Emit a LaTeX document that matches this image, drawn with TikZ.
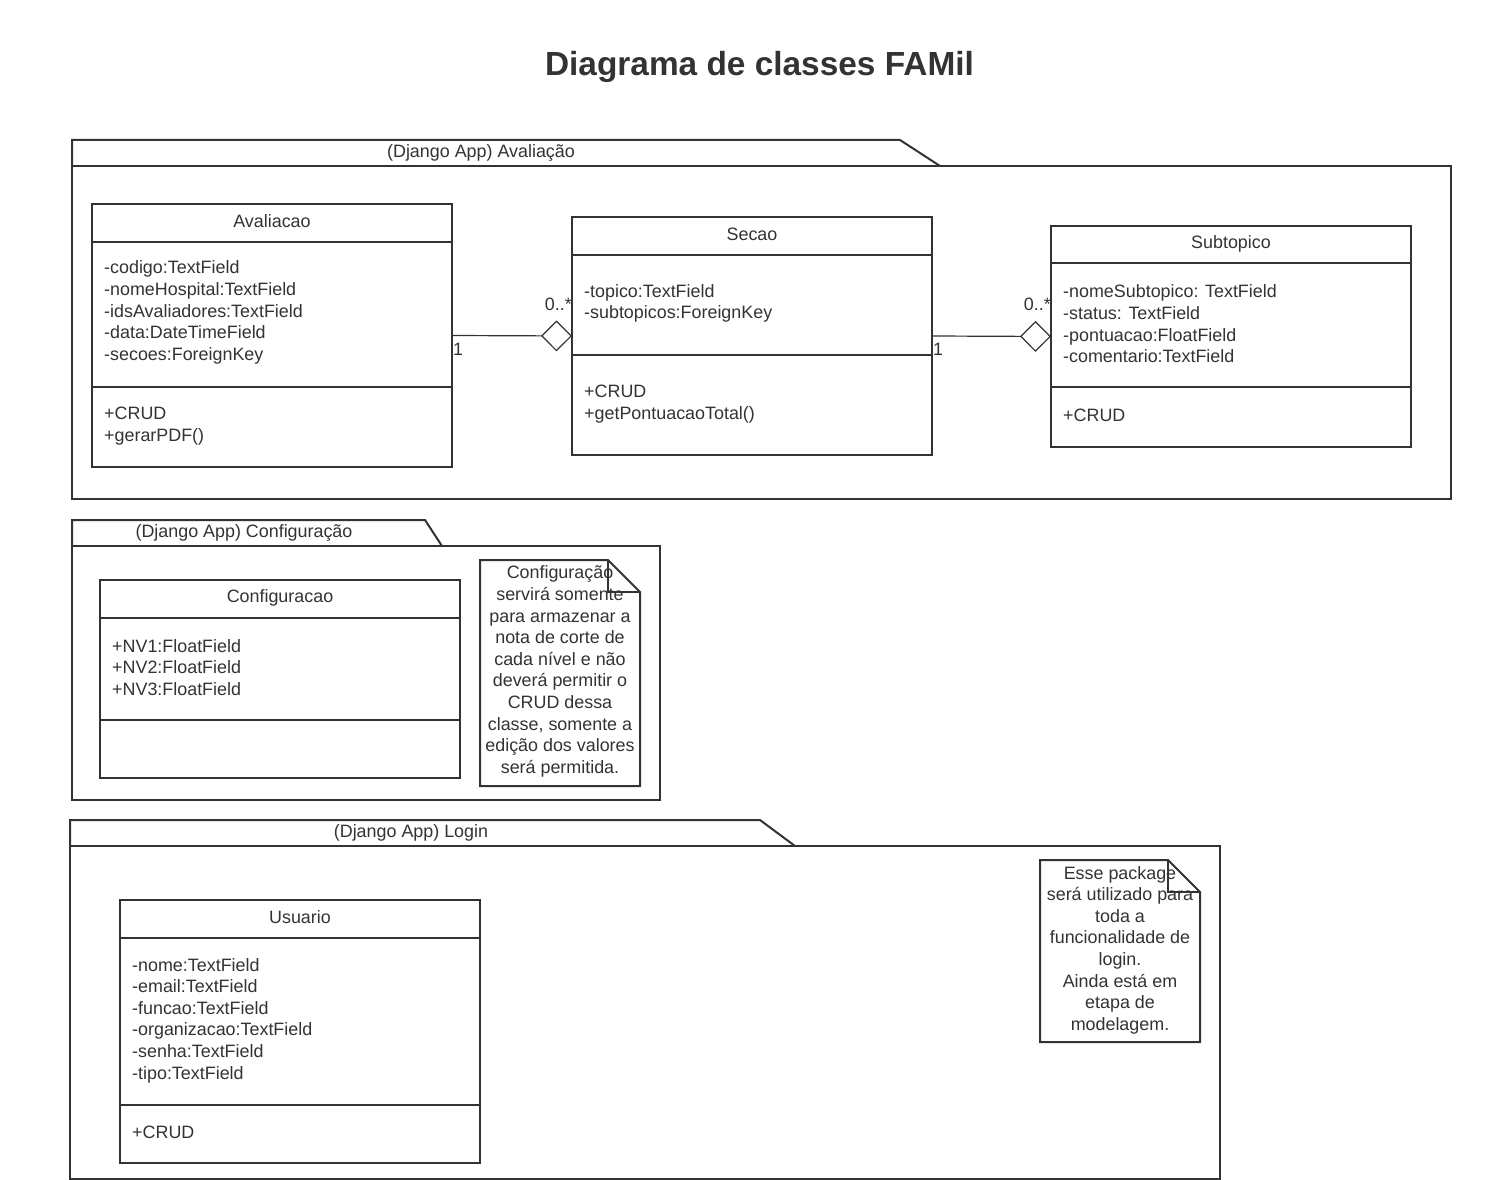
\documentclass[tikz,border=0pt]{standalone}
\usepackage{fontspec}
\setmainfont{Liberation Sans}
\usetikzlibrary{arrows.meta}
\definecolor{ink}{HTML}{333333}
\tikzset{
  txt/.style={inner sep=0pt, font=\fontsize{17.9}{21.6}\selectfont, text=ink, yshift=-1.5pt},
  lefttxt/.style={txt, align=left, anchor=west},
  ctxt/.style={txt, align=center},
  box/.style={draw=ink, line width=2pt, inner sep=0pt, outer sep=0pt, anchor=north west},
  sep/.style={draw=ink, line width=2pt},
  pkg/.style={draw=ink, line width=2pt},
  assoc/.style={draw=ink, line width=1.2pt, -{Diamond[open, length=31pt, width=31pt, line width=1.2pt]}},
}
\begin{document}
\begin{tikzpicture}[x=1pt, y=-1pt]
\useasboundingbox (0,0) rectangle (1500,1180);
\fill[white] (0,0) rectangle (1500,1180);

% title
\node[inner sep=0pt, text=ink, font=\fontsize{33.4}{40}\selectfont\bfseries] (title) at (759.5,67) {Diagrama de classes FAMil};

% ---------- package 1 ----------
\draw[pkg] (72,166) -- (72,140) -- (900,140) -- (940,166);
\draw[pkg] (72,166) rectangle (1451,499);
\node[ctxt] (p1lbl) at (481,151) {(Django App) Avaliação};

% Avaliacao
\node[box, minimum width=360pt, minimum height=263pt] (aval) at (92,204) {};
\draw[sep] (92,242) -- (452,242) (92,387) -- (452,387);
\node[ctxt] (avalname) at (272,220) {Avaliacao};
\node[lefttxt] (avalattr) at (104,311) {-codigo:TextField\\-nomeHospital:TextField\\-idsAvaliadores:TextField\\-data:DateTimeField\\-secoes:ForeignKey};
\node[lefttxt] (avalop) at (104,424.5) {+CRUD\\+gerarPDF()};

% Secao
\node[box, minimum width=360pt, minimum height=238pt] (secao) at (572,217) {};
\draw[sep] (572,255) -- (932,255) (572,355) -- (932,355);
\node[ctxt] (secaoname) at (752,233) {Secao};
\node[lefttxt] (secaoattr) at (584,302) {-topico:TextField\\-subtopicos:ForeignKey};
\node[lefttxt] (secaoop) at (584,402.5) {+CRUD\\+getPontuacaoTotal()};

% Subtopico
\node[box, minimum width=360pt, minimum height=221pt] (subt) at (1051,226) {};
\draw[sep] (1051,263) -- (1411,263) (1051,387) -- (1411,387);
\node[ctxt] (subtname) at (1231,242) {Subtopico};
\node[lefttxt] (subtattr) at (1063,322.5) {-nomeSubtopico: TextField\\-status: TextField\\-pontuacao:FloatField\\-comentario:TextField};
\node[lefttxt] (subtop) at (1063,414) {+CRUD};

% associations
\draw[assoc] (aval.east) -- (secao.west);
\draw[assoc] (secao.east) -- (subt.west);
\node[txt, anchor=east] (m1a) at (572,303) {0..*};
\node[txt, anchor=west] (m1b) at (453,348) {1};
\node[txt, anchor=east] (m2a) at (1051,303) {0..*};
\node[txt, anchor=west] (m2b) at (933,348) {1};

% ---------- package 2 ----------
\draw[pkg] (72,546) -- (72,520) -- (425,520) -- (442,546);
\draw[pkg] (72,546) rectangle (660,800);
\node[ctxt] (p2lbl) at (244,531) {(Django App) Configuração};

\node[box, minimum width=360pt, minimum height=198pt] (conf) at (100,580) {};
\draw[sep] (100,618) -- (460,618) (100,720) -- (460,720);
\node[ctxt] (confname) at (280,596) {Configuracao};
\node[lefttxt] (confattr) at (112,666) {+NV1:FloatField\\+NV2:FloatField\\+NV3:FloatField};

% note 1
\draw[sep] (480,560) -- (608,560) -- (640,592) -- (640,786) -- (480,786) -- cycle;
\draw[sep] (608,560) -- (608,592) -- (640,592);
\node[ctxt] (note1) at (560,670) {Configuração\\servirá somente\\para armazenar a\\nota de corte de\\cada nível e não\\deverá permitir o\\CRUD dessa\\classe, somente a\\edição dos valores\\será permitida.};

% ---------- package 3 ----------
\draw[pkg] (70,846) -- (70,820) -- (760,820) -- (795,846);
\draw[pkg] (70,846) -- (1220,846) -- (1220,1179) -- (70,1179) -- cycle;
\node[ctxt] (p3lbl) at (411,831) {(Django App) Login};

\node[box, minimum width=360pt, minimum height=263pt] (usr) at (120,900) {};
\draw[sep] (120,938) -- (480,938) (120,1105) -- (480,1105);
\node[ctxt] (usrname) at (300,916) {Usuario};
\node[lefttxt] (usrattr) at (132,1019) {-nome:TextField\\-email:TextField\\-funcao:TextField\\-organizacao:TextField\\-senha:TextField\\-tipo:TextField};
\node[lefttxt] (usrop) at (132,1131) {+CRUD};

% note 2
\draw[sep] (1040,860) -- (1168,860) -- (1200,892) -- (1200,1042) -- (1040,1042) -- cycle;
\draw[sep] (1168,860) -- (1168,892) -- (1200,892);
\node[ctxt] (note2) at (1120,948.5) {Esse package\\será utilizado para\\toda a\\funcionalidade de\\login.\\Ainda está em\\etapa de\\modelagem.};
\end{tikzpicture}
\end{document}
